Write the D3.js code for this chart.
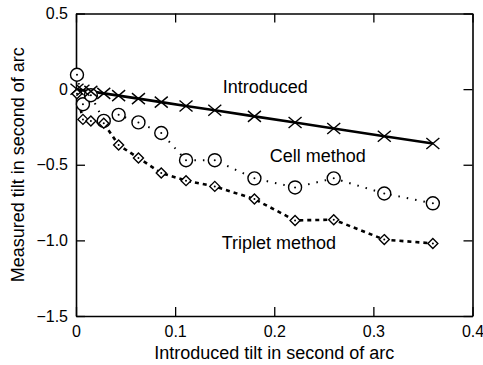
<!DOCTYPE html>
<head>
  <meta charset="utf-8">
  <script src="https://d3js.org/d3.v7.min.js"></script>
  <style>
    body { margin:0; background:#fff; }
    svg { font-family: "Liberation Sans", Arial, sans-serif; }
  </style>
</head>
<body>
<script type='text/javascript'>
  // introduced tilt (x) shared by all series
  var tilt = [0.001, 0.007, 0.015, 0.028, 0.043, 0.063, 0.086, 0.111, 0.140, 0.180, 0.221, 0.260, 0.311, 0.360];
  var introduced = [-0.001, -0.007, -0.015, -0.028, -0.043, -0.063, -0.086, -0.111, -0.140, -0.180, -0.221, -0.260, -0.311, -0.360];
  var cell = [0.095, -0.10, -0.04, -0.21, -0.17, -0.22, -0.29, -0.47, -0.47, -0.59, -0.65, -0.59, -0.69, -0.755];
  var triplet = [-0.03, -0.20, -0.21, -0.225, -0.37, -0.455, -0.555, -0.605, -0.643, -0.727, -0.868, -0.863, -0.995, -1.02];
  var xTicks = [0, 0.1, 0.2, 0.3, 0.4];
  var yTicks = [0.5, 0, -0.5, -1.0, -1.5];

  var width = 483, height = 365;
  // plot box (note: "top" is reserved on window, so use other names)
  var mLeft = 76, mRight = 472.5, mTop = 13.5, mBottom = 316;

  var svg = d3.select('body').append('svg')
    .attr('width', width).attr('height', height);

  var x = d3.scaleLinear().domain([0, 0.4]).range([mLeft, mRight]);
  var y = d3.scaleLinear().domain([-1.5, 0.5]).range([mBottom, mTop]);

  var fmtY = function(d) { return d == 0 ? '0' : d3.format('.1f')(d).replace('-', '\u2212'); };
  var fmtX = function(d) { return d == 0 ? '0' : d3.format('.1f')(d); };

  // axes, ticks pointing inward on all four sides
  svg.append('g').attr('transform', 'translate(0,' + mBottom + ')')
    .call(d3.axisBottom(x).tickValues(xTicks).tickFormat(fmtX).tickSizeInner(-9).tickSizeOuter(0).tickPadding(10));
  svg.append('g').attr('transform', 'translate(0,' + mTop + ')')
    .call(d3.axisTop(x).tickValues(xTicks).tickFormat('').tickSizeInner(-9).tickSizeOuter(0));
  svg.append('g').attr('transform', 'translate(' + mLeft + ',0)')
    .call(d3.axisLeft(y).tickValues(yTicks).tickFormat(fmtY).tickSizeInner(-9).tickSizeOuter(0).tickPadding(8));
  svg.append('g').attr('transform', 'translate(' + mRight + ',0)')
    .call(d3.axisRight(y).tickValues(yTicks).tickFormat('').tickSizeInner(-9).tickSizeOuter(0));

  svg.selectAll('.domain').attr('stroke', '#000').attr('stroke-width', 1.6);
  svg.selectAll('.tick line').attr('stroke', '#000').attr('stroke-width', 1.3);
  svg.selectAll('.tick text').attr('font-size', 16).attr('fill', '#000')
    .attr('font-family', '"Liberation Sans", Arial, sans-serif');

  var pts = function(vals) { return vals.map(function(v, i) { return [tilt[i], v]; }); };
  var line = d3.line().x(d => x(d[0])).y(d => y(d[1]));

  // lines
  svg.append('path').datum(pts(cell)).attr('d', line)
    .attr('fill', 'none').attr('stroke', '#000').attr('stroke-width', 2)
    .attr('stroke-dasharray', '1.5,7').attr('stroke-linecap', 'butt');
  svg.append('path').datum(pts(triplet)).attr('d', line)
    .attr('fill', 'none').attr('stroke', '#000').attr('stroke-width', 2.6)
    .attr('stroke-dasharray', '4,4');
  svg.append('path').datum(pts(introduced)).attr('d', line)
    .attr('fill', 'none').attr('stroke', '#000').attr('stroke-width', 2.6);

  // markers
  svg.selectAll('circle.cell').data(pts(cell)).enter().append('circle')
    .attr('cx', d => x(d[0])).attr('cy', d => y(d[1])).attr('r', 6.5)
    .attr('fill', '#fff').attr('stroke', '#000').attr('stroke-width', 1.4);
  svg.selectAll('circle.cdot').data(pts(cell)).enter().append('circle')
    .attr('cx', d => x(d[0])).attr('cy', d => y(d[1])).attr('r', 1).attr('fill', '#000');

  var diamond = 'M0,-5L5,0L0,5L-5,0Z';
  svg.selectAll('path.tri').data(pts(triplet)).enter().append('path')
    .attr('d', diamond).attr('transform', d => 'translate(' + x(d[0]) + ',' + y(d[1]) + ')')
    .attr('fill', '#fff').attr('stroke', '#000').attr('stroke-width', 1.4);
  svg.selectAll('circle.tdot').data(pts(triplet)).enter().append('circle')
    .attr('cx', d => x(d[0])).attr('cy', d => y(d[1])).attr('r', 1).attr('fill', '#000');

  var cross = 'M-6.5,-5.5L6.5,5.5M-6.5,5.5L6.5,-5.5';
  svg.selectAll('path.intro').data(pts(introduced)).enter().append('path')
    .attr('d', cross).attr('transform', d => 'translate(' + x(d[0]) + ',' + y(d[1]) + ')')
    .attr('fill', 'none').attr('stroke', '#000').attr('stroke-width', 1.4);

  // series labels
  var labels = [
    { text: 'Introduced', x: 0.148, y: -0.028 },
    { text: 'Cell method', x: 0.1955, y: -0.484 },
    { text: 'Triplet method', x: 0.147, y: -1.06 }
  ];
  svg.selectAll('text.lbl').data(labels).enter().append('text')
    .attr('x', d => x(d.x)).attr('y', d => y(d.y))
    .attr('font-size', 18).attr('fill', '#000').text(d => d.text);

  // axis titles
  svg.append('text').attr('x', (mLeft + mRight) / 2).attr('y', 359)
    .attr('text-anchor', 'middle').attr('font-size', 18).text('Introduced tilt in second of arc');
  svg.append('text').attr('transform', 'translate(24,' + ((mTop + mBottom) / 2) + ') rotate(-90)')
    .attr('text-anchor', 'middle').attr('font-size', 18).text('Measured tilt in second of arc');
</script>
</body>
